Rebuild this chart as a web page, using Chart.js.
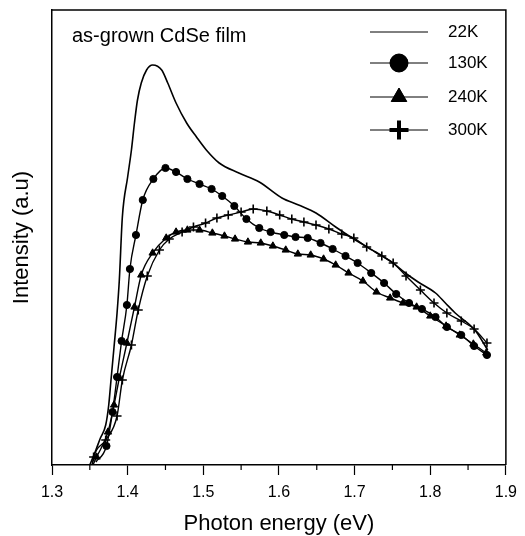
<!DOCTYPE html>
<html>
<head>
<meta charset="utf-8">
<script src="https://cdn.jsdelivr.net/npm/chart.js@4"></script>
<style>
  html, body { margin: 0; padding: 0; background: #fff; }
  #wrap { width: 525px; height: 536px; }
</style>
</head>
<body>
<div id="wrap"><canvas id="plChart" width="525" height="536"></canvas></div>
<script>
const xTicks = [1.3, 1.4, 1.5, 1.6, 1.7, 1.8, 1.9]
const minorTicks = [1.35, 1.45, 1.55, 1.65, 1.75, 1.85]
const seriesNames = ["22K", "130K", "240K", "300K"]
const plotTitle = "as-grown CdSe film"

// photon energy (eV) / intensity (a.u.)
const e22 = [1.350, 1.358, 1.364, 1.371, 1.375, 1.378, 1.382, 1.386, 1.389, 1.393, 1.400, 1.405, 1.409, 1.413, 1.418, 1.425, 1.433, 1.445, 1.453, 1.464, 1.478, 1.491, 1.504, 1.521, 1.547, 1.574, 1.604, 1.626, 1.649, 1.675, 1.701, 1.728, 1.749, 1.767, 1.784, 1.807, 1.820, 1.833, 1.859, 1.876]
const i22 = [0, 15, 27, 40, 60, 85, 118, 152, 185, 248, 288, 315, 342, 365, 382, 395, 400, 395, 382, 362, 342, 328, 315, 302, 292, 283, 267, 260, 252, 238, 225, 213, 203, 192, 183, 172, 162, 152, 135, 115]

const e130 = [1.358, 1.372, 1.380, 1.386, 1.392, 1.399, 1.403, 1.411, 1.420, 1.434, 1.450, 1.464, 1.479, 1.495, 1.511, 1.525, 1.541, 1.557, 1.574, 1.589, 1.607, 1.622, 1.638, 1.655, 1.671, 1.688, 1.704, 1.722, 1.739, 1.755, 1.772, 1.789, 1.807, 1.822, 1.841, 1.858, 1.875]
const i130 = [3, 19, 53, 88, 124, 160, 196, 230, 265, 286, 297, 293, 286, 281, 276, 269, 259, 246, 237, 233, 230, 228, 227, 222, 216, 209, 202, 192, 182, 171, 162, 156, 148, 138, 130, 119, 110]

const e240 = [1.354, 1.359, 1.374, 1.382, 1.389, 1.399, 1.409, 1.418, 1.433, 1.451, 1.464, 1.479, 1.495, 1.512, 1.528, 1.542, 1.559, 1.576, 1.592, 1.609, 1.625, 1.642, 1.659, 1.675, 1.692, 1.711, 1.729, 1.747, 1.764, 1.782, 1.800, 1.821, 1.839, 1.857, 1.874]
const i240 = [0, 8, 33, 60, 87, 122, 158, 190, 212, 227, 233, 235, 235, 232, 229, 226, 223, 222, 219, 215, 211, 210, 206, 200, 192, 184, 173, 167, 162, 158, 149, 139, 130, 121, 112]

const e300 = [1.353, 1.355, 1.371, 1.386, 1.393, 1.405, 1.414, 1.426, 1.442, 1.455, 1.472, 1.487, 1.503, 1.518, 1.533, 1.550, 1.566, 1.584, 1.601, 1.617, 1.633, 1.649, 1.666, 1.683, 1.699, 1.716, 1.736, 1.751, 1.768, 1.787, 1.805, 1.822, 1.841, 1.858, 1.875]
const i300 = [0, 8, 25, 49, 85, 120, 155, 189, 215, 226, 233, 238, 242, 247, 250, 253, 256, 254, 250, 246, 243, 240, 236, 231, 227, 218, 209, 202, 189, 175, 162, 152, 144, 136, 122]

const font = "'Liberation Sans', Arial, Helvetica, sans-serif"

const toPoints = (xs, ys) => xs.map((x, i) => ({ x: x, y: ys[i] }))
// first point of each marker series is just where the line leaves the axis
const skipFirst = (r) => (ctx) => ctx.dataIndex === 0 ? 0 : r

const styles = [
  { pointStyle: false, radius: 0, legendRadius: 0, width: 1 },
  { pointStyle: "circle", radius: 3.6, legendRadius: 9, width: 1 },
  { pointStyle: "triangle", radius: 4.2, legendRadius: 9, width: 1 },
  { pointStyle: "cross", radius: 4.5, legendRadius: 9.5, width: 4 }
]

const boxPlugin = {
  id: "boxAndText",
  afterDraw(chart) {
    const { ctx, chartArea: a, scales } = chart
    ctx.save()
    ctx.strokeStyle = "#000"
    ctx.lineWidth = 1.5
    ctx.beginPath()
    ctx.moveTo(a.left, a.top)
    ctx.lineTo(a.right, a.top)
    ctx.lineTo(a.right, a.bottom)
    ctx.stroke()

    // minor ticks on the energy axis
    ctx.lineWidth = 1.2
    minorTicks.forEach(v => {
      const px = scales.x.getPixelForValue(v)
      ctx.beginPath()
      ctx.moveTo(px, a.bottom)
      ctx.lineTo(px, a.bottom + 5)
      ctx.stroke()
    })

    ctx.fillStyle = "#000"
    ctx.font = "20px " + font
    ctx.textBaseline = "middle"
    ctx.textAlign = "left"
    ctx.fillText(plotTitle, a.left + 20, a.top + 26)

    // legend
    const rows = [32, 63, 97, 130]
    ctx.font = "17px " + font
    chart.data.datasets.forEach((ds, i) => {
      const y = rows[i]
      ctx.strokeStyle = "#000"
      ctx.lineWidth = 1
      ctx.beginPath()
      ctx.moveTo(370, y)
      ctx.lineTo(428, y)
      ctx.stroke()
      const st = styles[i]
      if (st.pointStyle) {
        ctx.lineWidth = st.width
        Chart.helpers.drawPoint(ctx, {
          pointStyle: st.pointStyle,
          radius: st.legendRadius,
          borderWidth: st.width,
          rotation: 0
        }, 399, y)
        ctx.fill()
      }
      ctx.fillStyle = "#000"
      ctx.fillText(ds.label, 448, y)
    })
    ctx.restore()
  }
}

new Chart(document.getElementById("plChart"), {
  type: "scatter",
  data: {
    datasets: [
      { label: seriesNames[0], data: toPoints(e22, i22) },
      { label: seriesNames[1], data: toPoints(e130, i130) },
      { label: seriesNames[2], data: toPoints(e240, i240) },
      { label: seriesNames[3], data: toPoints(e300, i300) }
    ].map((ds, i) => Object.assign(ds, {
      showLine: true,
      borderColor: "#000",
      backgroundColor: "#000",
      borderWidth: i === 0 ? 1.6 : 1.4,
      cubicInterpolationMode: "monotone",
      pointStyle: styles[i].pointStyle,
      pointRadius: skipFirst(styles[i].radius),
      pointBorderWidth: i === 3 ? 1.6 : 1,
      pointBackgroundColor: "#000",
      pointBorderColor: "#000",
      pointHoverRadius: 0
    }))
  },
  options: {
    responsive: false,
    animation: false,
    layout: { padding: { top: 10, right: 17, left: 0, bottom: 0 } },
    plugins: { legend: { display: false }, tooltip: { enabled: false } },
    scales: {
      x: {
        type: "linear",
        min: 1.3,
        max: 1.9,
        afterBuildTicks: (s) => { s.ticks = xTicks.map(v => ({ value: v })) },
        afterFit: (s) => { s.height = 71 },
        ticks: {
          color: "#000",
          font: { family: font, size: 16 },
          padding: 8,
          maxRotation: 0,
          callback: (v) => v.toFixed(1)
        },
        grid: { drawOnChartArea: false, drawTicks: true, tickLength: 10, color: "#000", tickWidth: 1.2 },
        border: { color: "#000", width: 1.5 },
        title: {
          display: true,
          text: "Photon energy (eV)",
          color: "#000",
          font: { family: font, size: 22, lineHeight: 1.1 },
          padding: { top: 0, bottom: 0 }
        }
      },
      y: {
        min: 0,
        max: 455,
        afterFit: (s) => { s.width = 52 },
        ticks: { display: false },
        grid: { display: false },
        border: { color: "#000", width: 1.5 },
        title: {
          display: true,
          text: "Intensity (a.u)",
          color: "#000",
          font: { family: font, size: 22, lineHeight: 1.2 },
          padding: { top: 9, bottom: 0 }
        }
      }
    }
  },
  plugins: [boxPlugin]
})
</script>
</body>
</html>
